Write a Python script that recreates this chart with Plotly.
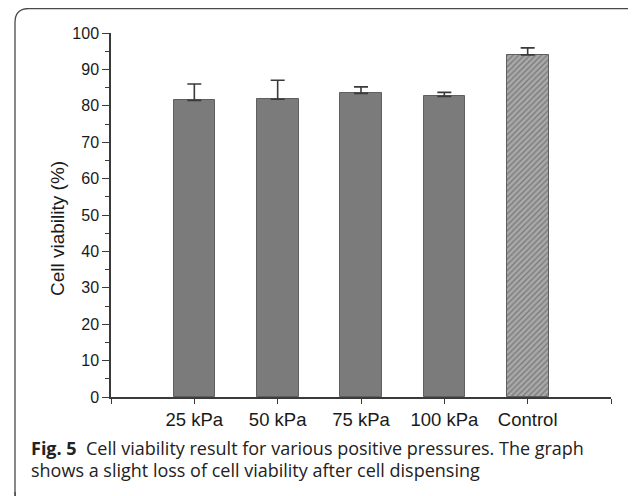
import plotly.graph_objects as go

categories = ["25 kPa", "50 kPa", "75 kPa", "100 kPa", "Control"]
viability = [81.5, 81.8, 83.4, 82.6, 94.0]
error_up = [4.5, 5.2, 1.8, 1.1, 1.9]
y_ticks = [0, 10, 20, 30, 40, 50, 60, 70, 80, 90, 100]

# the page body has a default 8px margin; size the figure so it fits the window
OFF = 8
WIN_W, WIN_H = 636, 496
W, H = WIN_W - OFF, WIN_H - OFF
# plot area edges in window pixels
AX_L, AX_R, AX_T, AX_B = 111, 611, 33, 397
ML, MR, MT, MB = AX_L - OFF, WIN_W - AX_R, AX_T - OFF, WIN_H - AX_B
PW, PH = AX_R - AX_L, AX_B - AX_T


def px(x):
    return (x - AX_L) / PW


def py(y):
    return (AX_B - y) / PH


xpos = list(range(1, len(categories) + 1))
patterns = ["" for _ in categories[:-1]] + ["/"]
colors = ["#7b7b7b" for _ in categories[:-1]] + ["#a9a9a9"]

fig = go.Figure()
fig.add_trace(go.Bar(
    x=xpos, y=viability, width=0.5,
    marker=dict(color=colors,
                line=dict(color="#5f5f5f", width=1),
                pattern=dict(shape=patterns, fgcolor="#5a5a5a", bgcolor="#b8b8b8",
                             size=4, solidity=0.3)),
    error_y=dict(type="data", symmetric=False, array=error_up,
                 arrayminus=[0 for _ in error_up],
                 color="#3a3a3a", thickness=1.6, width=7),
    showlegend=False,
))

axis_font = dict(family="Liberation Sans, Arial, sans-serif", color="#1a1a1a")

fig.update_layout(
    width=W, height=H,
    margin=dict(l=ML, r=MR, t=MT, b=MB, pad=0),
    paper_bgcolor="white", plot_bgcolor="white",
    bargap=0,
    xaxis=dict(range=[0, len(categories) + 1],
               tickvals=[0] + xpos + [len(categories) + 1],
               ticktext=[""] + categories + [""],
               showline=True, linecolor="#3a3a3a", linewidth=1.5,
               ticks="outside", ticklen=5, tickwidth=1.4, tickcolor="#3a3a3a",
               tickfont=dict(size=18.5, **axis_font),
               showgrid=False, zeroline=False, fixedrange=True),
    yaxis=dict(range=[0, 100], tickvals=y_ticks,
               ticktext=[str(v) for v in y_ticks],
               showline=True, linecolor="#3a3a3a", linewidth=1.5,
               ticks="outside", ticklen=7, tickwidth=1.4, tickcolor="#3a3a3a",
               minor=dict(dtick=5, ticks="outside", ticklen=4, tickwidth=1.2,
                          tickcolor="#3a3a3a", showgrid=False),
               tickfont=dict(size=16, **axis_font),
               showgrid=False, zeroline=False, fixedrange=True),
)

fig.add_annotation(
    xref="paper", yref="paper", x=px(57), y=py(229),
    text="Cell viability (%)", textangle=-90, showarrow=False,
    xanchor="center", yanchor="middle",
    font=dict(size=19, **axis_font),
)

cap_font = dict(family="Open Sans, Noto Sans, sans-serif", size=18, color="#222222")
fig.add_annotation(
    xref="paper", yref="paper", x=px(29), y=py(448),
    text="<b>Fig. 5</b>&nbsp;&nbsp;Cell viability result for various positive pressures. The graph",
    showarrow=False, xanchor="left", yanchor="middle", font=cap_font,
)
fig.add_annotation(
    xref="paper", yref="paper", x=px(29), y=py(470),
    text="shows a slight loss of cell viability after cell dispensing",
    showarrow=False, xanchor="left", yanchor="middle", font=cap_font,
)

# card frame (rounded, only left and top edges visible)
x0, y0, x1, y1, r = 15, 8.5, 648, 506, 14
path = (f"M {px(x0)},{py(y1)} "
        f"L {px(x0)},{py(y0 + r)} "
        f"Q {px(x0)},{py(y0)} {px(x0 + r)},{py(y0)} "
        f"L {px(x1 - r)},{py(y0)} "
        f"Q {px(x1)},{py(y0)} {px(x1)},{py(y0 + r)}")
path_bl = (f"M {px(x0)},{py(y1 - r)} Q {px(x0)},{py(y1)} {px(x0 + r)},{py(y1)}")
fig.add_shape(type="path", xref="paper", yref="paper", path=path,
              line=dict(color="#4a4a4a", width=1.3), layer="above")
fig.add_shape(type="path", xref="paper", yref="paper", path=path_bl,
              line=dict(color="#4a4a4a", width=1.3), layer="above")

fig.write_html("out.html")
